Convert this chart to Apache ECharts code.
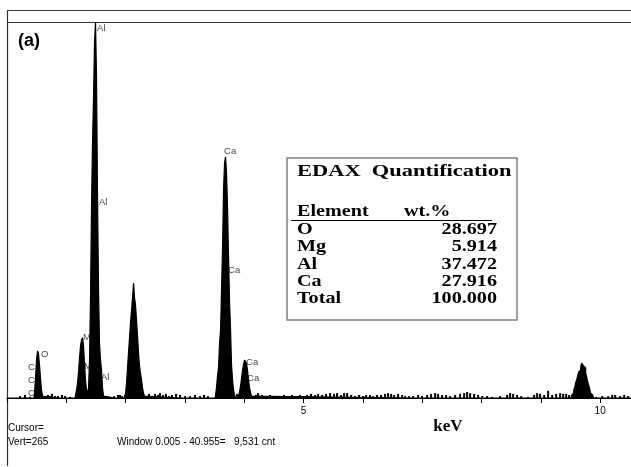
<!DOCTYPE html>
<html>
<head>
<meta charset="utf-8">
<title>EDAX spectrum (a)</title>
<script src="https://cdn.jsdelivr.net/npm/echarts@6/dist/echarts.min.js"></script>
<style>
  html, body { margin: 0; padding: 0; background: #fff; }
  #main { width: 631px; height: 467px; }
</style>
</head>
<body>
<div id="main"></div>
<script>
// peaks, [keV, counts]
const peakO = [
  [0.455, 0], [0.472, 13], [0.489, 53], [0.506, 101], [0.523, 125], [0.540, 117],
  [0.556, 88], [0.573, 53], [0.590, 21], [0.607, 5], [0.624, 0]
]
const peakMgAl = [
  [1.147, 0], [1.164, 8], [1.180, 21], [1.197, 40], [1.214, 67], [1.231, 106],
  [1.248, 138], [1.265, 154], [1.282, 160], [1.298, 138], [1.315, 93], [1.332, 48],
  [1.349, 21], [1.366, 13], [1.383, 27], [1.400, 101], [1.416, 266], [1.433, 505],
  [1.450, 678], [1.467, 798], [1.484, 947], [1.501, 1000], [1.518, 851], [1.535, 532],
  [1.551, 293], [1.568, 146], [1.585, 101], [1.602, 74], [1.619, 27], [1.636, 5], [1.653, 0]
]
const peakAu1 = [
  [1.973, 0], [1.990, 5], [2.007, 13], [2.024, 40], [2.040, 80], [2.057, 120],
  [2.074, 160], [2.091, 200], [2.108, 234], [2.125, 266], [2.142, 306], [2.159, 266],
  [2.175, 247], [2.192, 207], [2.209, 165], [2.226, 120], [2.243, 85], [2.260, 64],
  [2.277, 48], [2.293, 27], [2.310, 13], [2.327, 5], [2.344, 0]
]
const peakCaKa = [
  [3.508, 0], [3.524, 8], [3.541, 29], [3.558, 59], [3.575, 82], [3.592, 146],
  [3.609, 181], [3.626, 293], [3.642, 399], [3.659, 553], [3.676, 625], [3.693, 641],
  [3.710, 598], [3.727, 505], [3.744, 375], [3.761, 253], [3.777, 181], [3.794, 88],
  [3.811, 48], [3.828, 21], [3.845, 8], [3.862, 0]
]
const peakCaKb = [
  [3.895, 0], [3.912, 5], [3.929, 16], [3.946, 32], [3.963, 53], [3.980, 74],
  [3.997, 90], [4.013, 101], [4.030, 106], [4.047, 93], [4.064, 72], [4.081, 48],
  [4.098, 27], [4.115, 13], [4.132, 5], [4.148, 0]
]
const peakAu2 = [
  [9.511, 0], [9.528, 8], [9.545, 13], [9.562, 21], [9.578, 27], [9.595, 40],
  [9.612, 48], [9.629, 59], [9.646, 69], [9.663, 74], [9.680, 82], [9.696, 93],
  [9.713, 93], [9.730, 85], [9.747, 80], [9.764, 67], [9.781, 56], [9.798, 43],
  [9.815, 35], [9.831, 24], [9.848, 13], [9.865, 8], [9.882, 3], [9.899, 0]
]
// background noise spikes
const noise = [
  [0.219, 5], [0.304, 8], [0.388, 3], [0.658, 5], [0.691, 8], [0.725, 5], [0.759, 11],
  [0.809, 5], [0.860, 5], [0.927, 8], [0.978, 5], [1.062, 3], [1.737, 3], [1.804, 5],
  [1.872, 8], [1.906, 8], [1.939, 5], [2.395, 11], [2.445, 5], [2.496, 11], [2.546, 8],
  [2.580, 13], [2.631, 8], [2.681, 11], [2.732, 5], [2.782, 8], [2.850, 11], [2.917, 8],
  [3.002, 5], [3.086, 5], [3.170, 8], [3.255, 5], [3.322, 8], [3.390, 5], [3.879, 11],
  [4.199, 8], [4.233, 13], [4.300, 8], [4.368, 5], [4.435, 8], [4.519, 5], [4.604, 5],
  [4.671, 8], [4.739, 5], [4.806, 8], [4.874, 5], [4.941, 8], [4.992, 5], [5.059, 8],
  [5.126, 11], [5.194, 8], [5.245, 11], [5.312, 8], [5.379, 11], [5.447, 13], [5.514, 11],
  [5.565, 13], [5.632, 8], [5.683, 13], [5.734, 13], [5.801, 8], [5.868, 5], [5.936, 8],
  [6.003, 5], [6.054, 8], [6.121, 8], [6.172, 5], [6.239, 8], [6.307, 8], [6.374, 11],
  [6.425, 13], [6.476, 11], [6.526, 8], [6.594, 11], [6.661, 8], [6.712, 5], [6.779, 5],
  [6.847, 5], [6.931, 8], [6.998, 5], [7.083, 8], [7.150, 11], [7.218, 13], [7.268, 11],
  [7.336, 8], [7.403, 8], [7.470, 5], [7.555, 8], [7.639, 11], [7.707, 13], [7.757, 16],
  [7.808, 13], [7.875, 11], [7.943, 8], [8.010, 5], [8.094, 5], [8.179, 3], [8.314, 5],
  [8.432, 8], [8.482, 13], [8.533, 11], [8.600, 8], [8.668, 5], [8.786, 3], [8.887, 8],
  [8.938, 13], [8.988, 11], [9.056, 8], [9.123, 19], [9.191, 8], [9.258, 11], [9.325, 13],
  [9.376, 11], [9.427, 11], [9.477, 8], [9.933, 3], [10.034, 5], [10.135, 5], [10.202, 8],
  [10.253, 8], [10.337, 5], [10.405, 8], [10.472, 5]
]
// peak marker labels [keV, counts, text]
const peakLabels = [
  [1.518, 984, 'Al'], [1.551, 519, 'Al'], [1.585, 56, 'Al'],
  [1.282, 160, 'M'], [1.298, 85, 'M'],
  [0.574, 117, 'O'],
  [0.354, 82, 'C'], [0.354, 48, 'C'], [0.354, 13, 'C'],
  [3.659, 657, 'Ca'], [3.727, 340, 'Ca'], [4.030, 96, 'Ca'], [4.047, 53, 'Ca']
]
const xMax = 10.52
const shownTicks = [5, 10]

// quantification table
const elements = ['O', 'Mg', 'Al', 'Ca', 'Total']
const wtPercent = ['28.697', '5.914', '37.472', '27.916', '100.000']

const spectrum = [[0, 0]].concat(peakO, peakMgAl, peakAu1, peakCaKa, peakCaKb, peakAu2, [[xMax, 0]])

const chart = echarts.init(document.getElementById('main'))

const serif = '"Liberation Serif", "Times New Roman", serif'
const sans = '"Liberation Sans", Arial, sans-serif'

let tableGraphics = [
  { type: 'rect', shape: { x: 287, y: 158, width: 230, height: 162 },
    style: { fill: '#fff', stroke: '#808080', lineWidth: 1.5 } },
  { type: 'text', x: 297, y: 172, scaleX: 1.32,
    style: { text: 'EDAX  Quantification', font: 'bold 17px ' + serif, fill: '#000', textVerticalAlign: 'middle' } },
  { type: 'text', x: 297, y: 212, scaleX: 1.26,
    style: { text: 'Element', font: 'bold 16px ' + serif, fill: '#000', textVerticalAlign: 'middle' } },
  { type: 'text', x: 404, y: 212, scaleX: 1.26,
    style: { text: 'wt.%', font: 'bold 16px ' + serif, fill: '#000', textVerticalAlign: 'middle' } },
  { type: 'line', shape: { x1: 291, y1: 220.5, x2: 492, y2: 220.5 }, style: { stroke: '#000', lineWidth: 1 } }
]
elements.forEach(function (el, i) {
  let y = 230 + i * 17.3
  tableGraphics.push({ type: 'text', x: 297, y: y, scaleX: 1.26,
    style: { text: el, font: 'bold 16px ' + serif, fill: '#000', textVerticalAlign: 'middle' } })
  tableGraphics.push({ type: 'text', x: 497, y: y, scaleX: 1.26,
    style: { text: wtPercent[i], font: 'bold 16px ' + serif, fill: '#000', textAlign: 'right', textVerticalAlign: 'middle' } })
})

let option = {
  animation: false,
  backgroundColor: '#fff',
  grid: { left: 7, right: 0, top: 22, bottom: 69 },
  xAxis: {
    type: 'value',
    min: 0,
    max: xMax,
    interval: 1,
    axisLine: { show: true, lineStyle: { color: '#000', width: 1 } },
    axisTick: { show: true, inside: false, length: 5, lineStyle: { color: '#000' } },
    axisLabel: {
      color: '#000',
      fontSize: 10,
      fontFamily: sans,
      margin: 8,
      showMaxLabel: false,
      formatter: function (v) { return shownTicks.indexOf(v) >= 0 ? String(v) : '' }
    },
    splitLine: { show: false }
  },
  yAxis: { type: 'value', min: 0, max: 1000, show: false, splitLine: { show: false } },
  series: [
    {
      type: 'line',
      data: spectrum,
      step: 'middle',
      symbol: 'none',
      lineStyle: { color: '#000', width: 1.2 },
      areaStyle: { color: '#000', opacity: 1 },
      z: 2
    },
    {
      type: 'bar',
      data: noise,
      barWidth: 2,
      itemStyle: { color: '#000' },
      z: 2
    },
    {
      type: 'scatter',
      data: peakLabels.map(function (p) { return [p[0], p[1], p[2]] }),
      symbolSize: 0,
      z: 3,
      label: {
        show: true,
        position: 'right',
        distance: 0,
        formatter: function (p) { return p.value[2] },
        color: '#111',
        fontSize: 9.5,
        fontFamily: sans
      }
    }
  ],
  graphic: [
    { type: 'line', shape: { x1: 7, y1: 10.5, x2: 631, y2: 10.5 }, style: { stroke: '#333', lineWidth: 1.2 } },
    { type: 'line', shape: { x1: 7, y1: 22.5, x2: 631, y2: 22.5 }, style: { stroke: '#333', lineWidth: 1.2 } },
    { type: 'line', shape: { x1: 7.5, y1: 10, x2: 7.5, y2: 466 }, style: { stroke: '#333', lineWidth: 1.2 } },
    { type: 'text', x: 18, y: 41,
      style: { text: '(a)', font: 'bold 18px ' + sans, fill: '#000', textVerticalAlign: 'middle' } },
    { type: 'text', x: 448, y: 427,
      style: { text: 'keV', font: 'bold 17px ' + serif, fill: '#000', textAlign: 'center', textVerticalAlign: 'middle' } },
    { type: 'text', x: 8, y: 428,
      style: { text: 'Cursor=', font: '10px ' + sans, fill: '#000', textVerticalAlign: 'middle' } },
    { type: 'text', x: 8, y: 442,
      style: { text: 'Vert=265', font: '10px ' + sans, fill: '#000', textVerticalAlign: 'middle' } },
    { type: 'text', x: 117, y: 442,
      style: { text: 'Window 0.005 - 40.955=   9,531 cnt', font: '10px ' + sans, fill: '#000', textVerticalAlign: 'middle' } }
  ].concat(tableGraphics)
}

chart.setOption(option)
</script>
</body>
</html>
